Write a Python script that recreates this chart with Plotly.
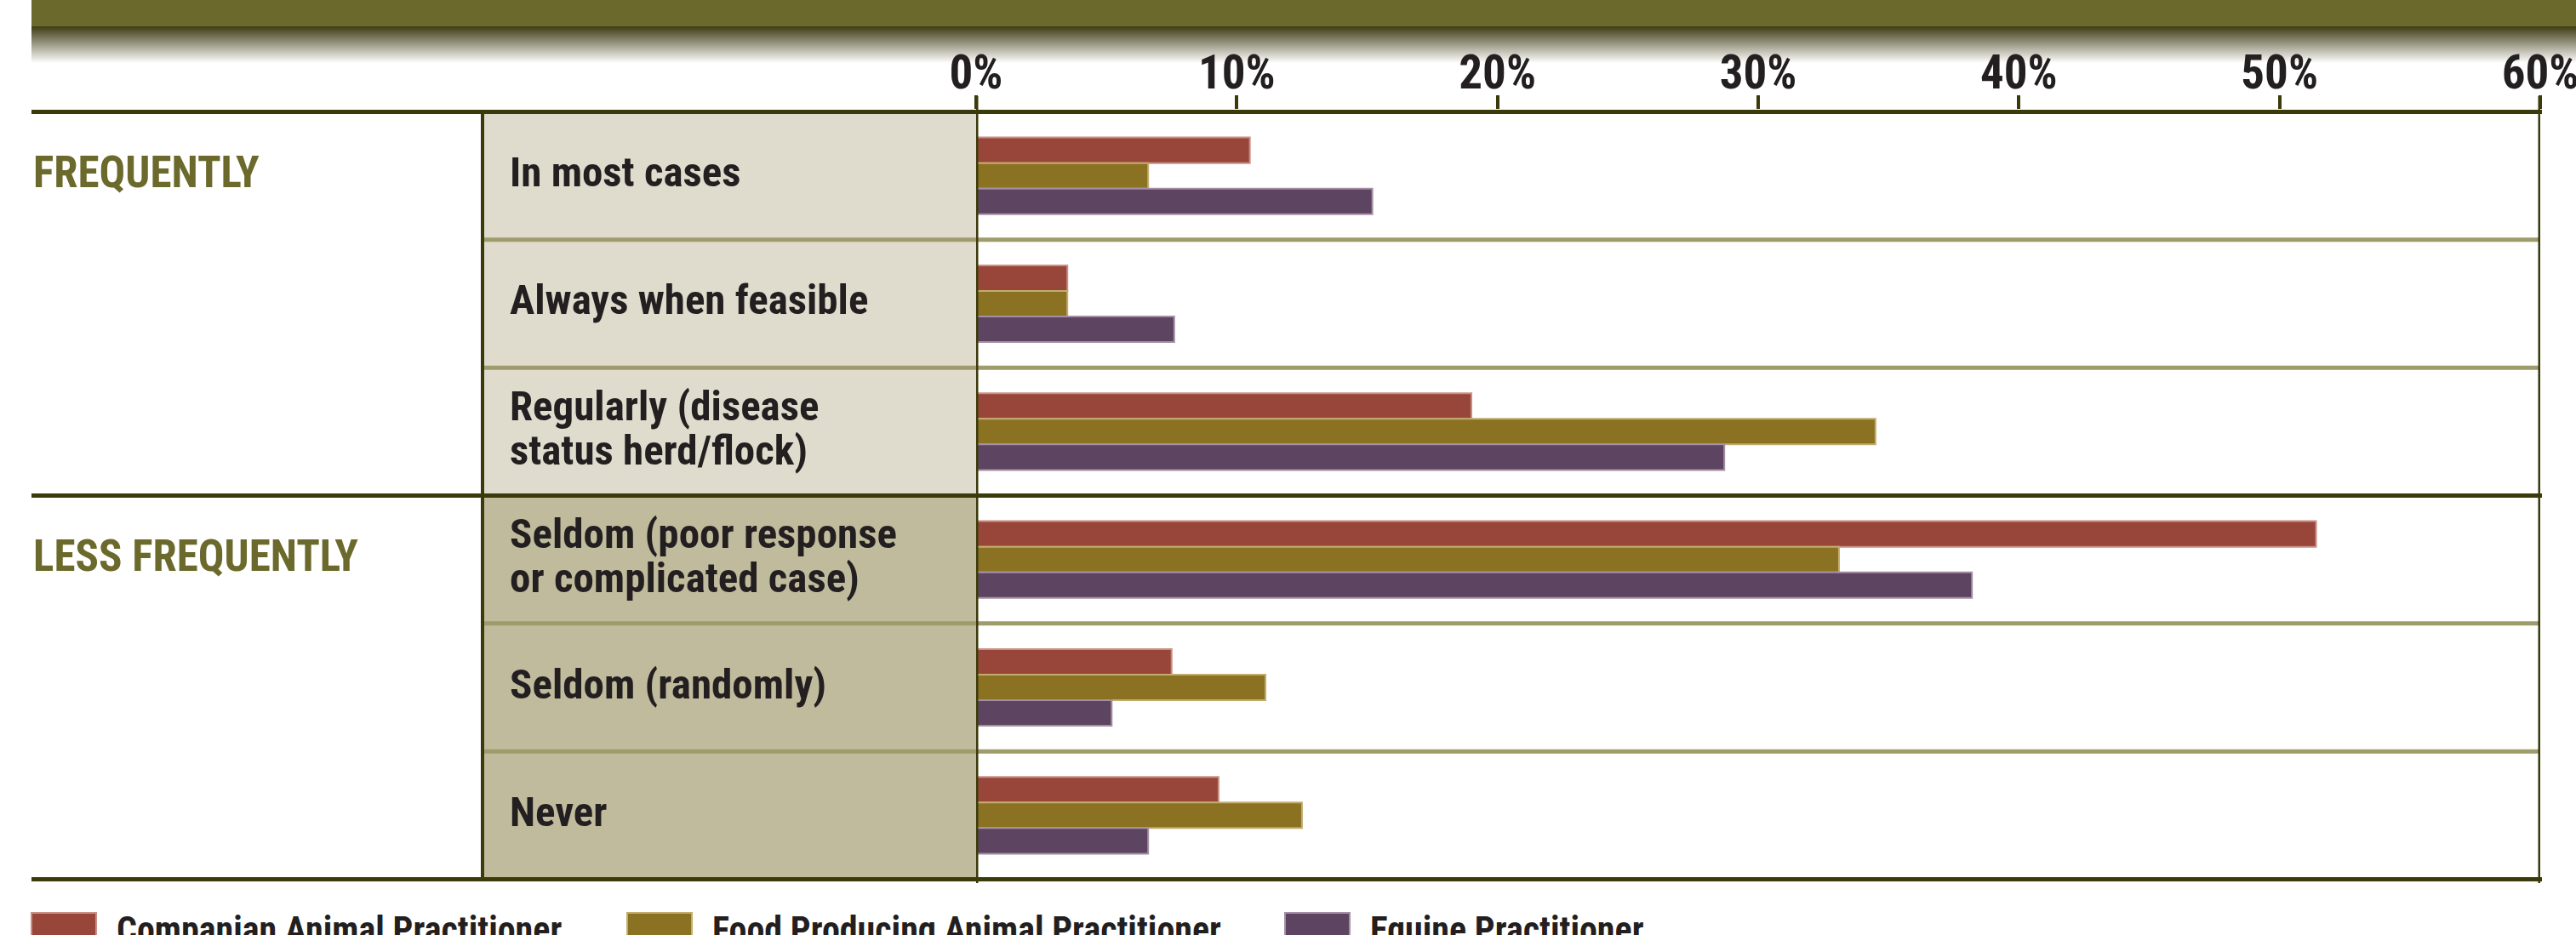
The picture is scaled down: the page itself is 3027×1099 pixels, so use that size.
import plotly.graph_objects as go

# ---------------- data ----------------
categories = [
    "In most cases",
    "Always when feasible",
    "Regularly (disease<br>status herd/flock)",
    "Seldom (poor response<br>or complicated case)",
    "Seldom (randomly)",
    "Never",
]
companion = [10.5, 3.5, 19.0, 51.4, 7.5, 9.3]
food_producing = [6.6, 3.5, 34.5, 33.1, 11.1, 12.5]
equine = [15.2, 7.6, 28.7, 38.2, 5.2, 6.6]
series_names = [
    "Companian Animal Practitioner",
    "Food Producing Animal Practitioner",
    "Equine Practitioner",
]
group_labels = ["FREQUENTLY", "LESS FREQUENTLY"]
group_start = [0, 3]
tick_values = [0, 10, 20, 30, 40, 50, 60]

# ---------------- style ----------------
W, H = 3027, 1099
FONT = "Roboto Condensed, Open Sans, sans-serif"
DARK = "#3a3a0a"
SEP = "#a09b6b"
TEXT = "#231f20"
OLIVE = "#6b6a2c"
colors = ["#98463a", "#8b7223", "#5d4460"]
edge_colors = ["#c98f84", "#c2ad6e", "#a48fa5"]


def px(x):
    return x / W


def py(y):
    return 1 - y / H


X0, X1 = 1147, 2985
Y0, Y1 = 129, 1036

fig = go.Figure()
for name, vals, c, ec in zip(series_names, [companion, food_producing, equine], colors, edge_colors):
    fig.add_trace(go.Bar(
        y=categories, x=vals, name=name, orientation="h",
        marker=dict(color=c, line=dict(color=ec, width=2)),
        showlegend=False, hoverinfo="x+name",
    ))

shapes = []
# banner
shapes.append(dict(type="rect", xref="paper", yref="paper", x0=px(37), x1=1, y0=py(0), y1=py(31),
                   fillcolor=OLIVE, line=dict(width=0), layer="below"))
dark_rgb = (62, 59, 20)
g0, g1 = 31, 74
for yy in range(g0, g1):
    t = (yy - g0 + 0.5) / (g1 - g0)
    col = tuple(int(round(d + (255 - d) * t)) for d in dark_rgb)
    shapes.append(dict(type="rect", xref="paper", yref="paper", x0=px(37), x1=1,
                       y0=py(yy), y1=py(yy + 1.2),
                       fillcolor="rgb(%d,%d,%d)" % col, line=dict(width=0), layer="below"))

# category boxes
shapes.append(dict(type="rect", xref="paper", yref="y", x0=px(566), x1=px(X0), y0=-0.5, y1=2.5,
                   fillcolor="#dfdccd", line=dict(width=0), layer="below"))
shapes.append(dict(type="rect", xref="paper", yref="y", x0=px(566), x1=px(X0), y0=2.5, y1=5.5,
                   fillcolor="#c0bb9c", line=dict(width=0), layer="below"))

# thin row separators
for yv in [0.5, 1.5, 3.5, 4.5]:
    shapes.append(dict(type="line", xref="paper", yref="y", x0=px(566), x1=px(X1), y0=yv, y1=yv,
                       line=dict(color=SEP, width=5), layer="below"))
# thick group lines
for yv in [-0.5, 2.5, 5.5]:
    shapes.append(dict(type="line", xref="paper", yref="y", x0=px(37), x1=px(X1 + 2), y0=yv, y1=yv,
                       line=dict(color=DARK, width=5), layer="above"))
# verticals
shapes.append(dict(type="line", xref="paper", yref="y", x0=px(567), x1=px(567), y0=-0.5, y1=5.5,
                   line=dict(color=DARK, width=4), layer="above"))
for xv in [0, 60]:
    shapes.append(dict(type="line", xref="x", yref="paper", x0=xv, x1=xv, y0=py(Y1 + 2), y1=py(113),
                       line=dict(color=DARK, width=5), layer="above"))

annotations = []
# category labels
LINE = 52
for cat in categories:
    lines = cat.split("<br>")
    n = len(lines)
    for i, ln in enumerate(lines):
        annotations.append(dict(
            x=px(597), xref="paper", y=cat, yref="y", xanchor="left", yanchor="middle",
            text=ln, showarrow=False, yshift=((n - 1) / 2 - i) * LINE + 4,
            font=dict(family=FONT, size=49, color=TEXT, weight="bold"),
        ))
# group labels
for g, s in zip(group_labels, group_start):
    annotations.append(dict(
        x=px(37), xref="paper", y=categories[s], yref="y", xanchor="left", yanchor="middle",
        text=g, showarrow=False, yshift=4,
        font=dict(family=FONT, size=51, color=OLIVE, weight="bold"),
    ))

# legend (custom)
leg_x = [37, 737, 1510]
for name, c, ec, lx in zip(series_names, colors, edge_colors, leg_x):
    shapes.append(dict(type="rect", xref="paper", yref="paper", x0=px(lx), x1=px(lx + 76),
                       y0=py(1104), y1=py(1073), fillcolor=c, line=dict(color=ec, width=2)))
    annotations.append(dict(
        x=px(lx + 98), xref="paper", y=py(1092), yref="paper", xanchor="left", yanchor="middle",
        text=name, showarrow=False,
        font=dict(family=FONT, size=42, color=TEXT, weight="bold"),
    ))

fig.update_layout(
    width=W, height=H,
    margin=dict(l=0, r=0, t=0, b=0),
    paper_bgcolor="white", plot_bgcolor="white",
    barmode="group", bargap=0.40, bargroupgap=0,
    shapes=shapes, annotations=annotations,
    xaxis=dict(
        domain=[px(X0), px(X1)], range=[0, 60], side="top", automargin=False,
        tickvals=tick_values, ticktext=["%d%%" % v for v in tick_values],
        ticks="outside", ticklen=16, tickwidth=4, tickcolor=DARK,
        showgrid=False, zeroline=False, showline=False, ticklabeloverflow="allow",
        tickfont=dict(family=FONT, size=55, color=TEXT, weight="bold"),
        ticklabelstandoff=-14,
    ),
    yaxis=dict(
        domain=[py(Y1), py(Y0)], type="category", categoryarray=categories, automargin=False,
        autorange="reversed", showticklabels=False, showgrid=False, zeroline=False,
        ticks="",
    ),
)

fig.write_html(
    "out.html",
    config={"displayModeBar": False},
    post_script="document.body.style.margin='0';document.body.style.overflow='hidden';",
)
